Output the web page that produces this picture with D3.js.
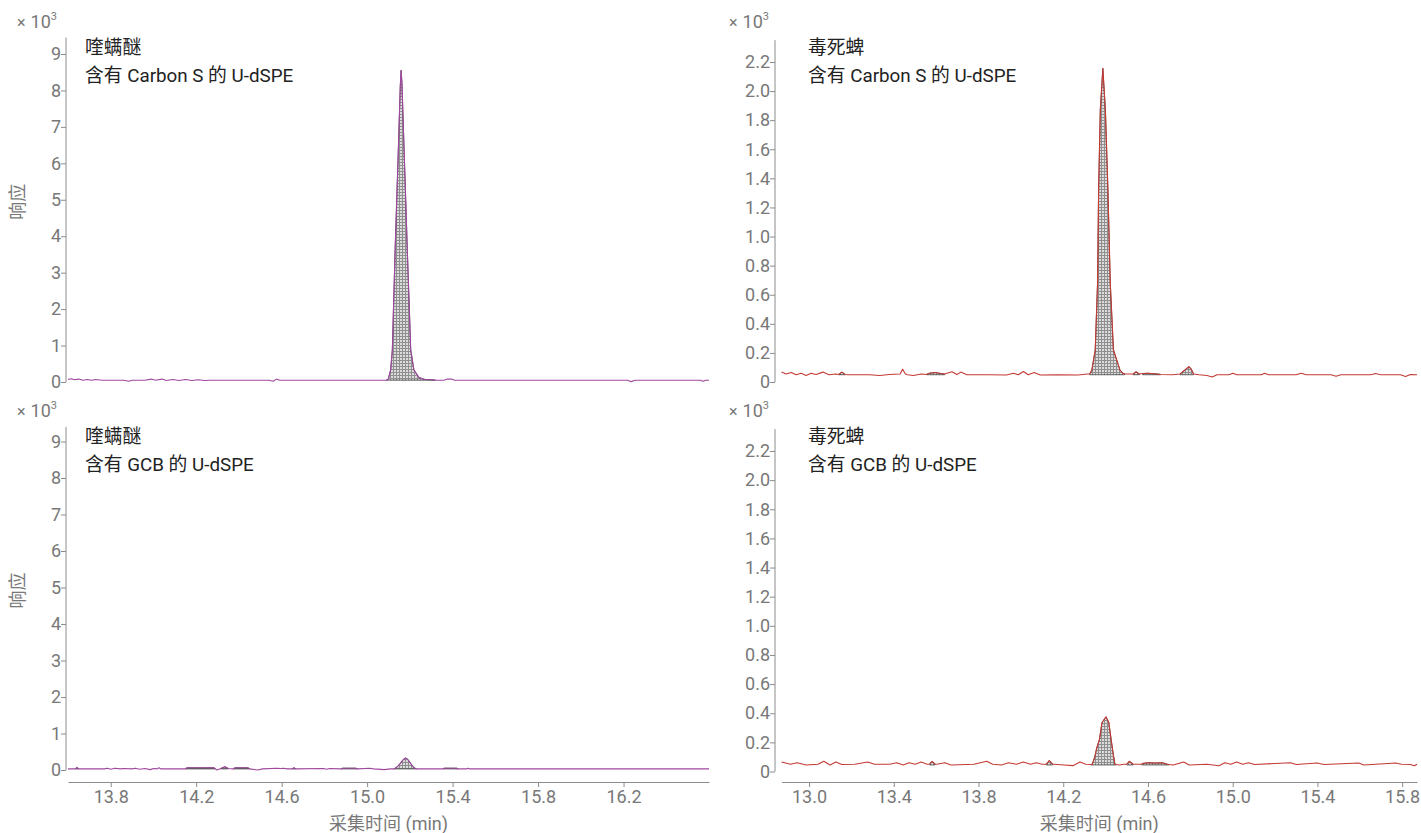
<!DOCTYPE html>
<html><head><meta charset="utf-8">
<script src="https://cdn.jsdelivr.net/npm/d3@7"></script>
<style>body{margin:0;background:#fff}svg{display:block;font-family:Roboto,"Noto Sans CJK SC",sans-serif}</style>
</head><body>
<svg id="c" width="1421" height="833"></svg>
<script>
// ---- data (response ×10³ vs acquisition time, min) ----
const compounds = ["喹螨醚", "毒死蜱"];
const sorbents = ["含有 Carbon S 的 U-dSPE", "含有 GCB 的 U-dSPE"];
const leftTicksX = [13.8, 14.2, 14.6, 15.0, 15.4, 15.8, 16.2];
const rightTicksX = [13.0, 13.4, 13.8, 14.2, 14.6, 15.0, 15.4, 15.8];
const leftTicksY = [0,1,2,3,4,5,6,7,8,9];
const rightTicksY = [0,0.2,0.4,0.6,0.8,1.0,1.2,1.4,1.6,1.8,2.0,2.2];

const fenCarbonS = [[13.600,0.07],[13.615,0.09],[13.630,0.06],[13.650,0.08],[13.670,0.05],[13.690,0.07],[13.710,0.05],[13.730,0.07],[13.760,0.05],[13.800,0.05],[13.860,0.05],[13.885,0.02],[13.900,0.05],[13.960,0.05],[13.990,0.08],[14.010,0.05],[14.040,0.08],[14.060,0.04],[14.090,0.07],[14.120,0.04],[14.150,0.07],[14.180,0.04],[14.210,0.06],[14.240,0.04],[14.260,0.05],[14.540,0.05],[14.560,0.02],[14.575,0.08],[14.590,0.05],[15.000,0.05],[15.090,0.05],[15.099,0.08],[15.110,0.33],[15.118,0.88],[15.131,3.63],[15.146,6.37],[15.155,8.10],[15.159,8.55],[15.163,8.20],[15.173,6.37],[15.188,3.63],[15.204,0.88],[15.219,0.33],[15.243,0.12],[15.270,0.07],[15.300,0.06],[15.320,0.05],[15.360,0.05],[15.375,0.08],[15.395,0.08],[15.410,0.05],[16.220,0.05],[16.235,0.01],[16.255,0.05],[16.560,0.05],[16.572,0.02],[16.585,0.05],[16.600,0.05]];
const fenGCB = [[13.600,0.03],[13.635,0.03],[13.642,0.07],[13.650,0.03],[13.770,0.03],[13.785,0.05],[13.800,0.02],[13.820,0.05],[13.845,0.03],[13.860,0.04],[13.900,0.03],[13.915,0.05],[13.935,0.02],[13.960,0.04],[13.985,0.01],[14.000,0.04],[14.016,0.03],[14.026,0.06],[14.035,0.03],[14.150,0.03],[14.157,0.06],[14.220,0.06],[14.283,0.06],[14.290,0.03],[14.297,0.00],[14.315,0.04],[14.334,0.09],[14.350,0.04],[14.375,0.03],[14.381,0.06],[14.442,0.06],[14.450,0.03],[14.489,0.00],[14.510,0.03],[14.578,0.05],[14.595,0.04],[14.610,0.05],[14.625,0.03],[14.650,0.03],[14.657,0.06],[14.665,0.03],[14.797,0.04],[14.810,0.02],[14.825,0.04],[14.880,0.03],[14.886,0.05],[14.947,0.05],[14.955,0.03],[15.013,0.05],[15.030,0.03],[15.080,0.01],[15.110,0.03],[15.125,0.03],[15.140,0.08],[15.155,0.18],[15.170,0.29],[15.180,0.33],[15.190,0.29],[15.205,0.17],[15.218,0.07],[15.230,0.03],[15.355,0.03],[15.360,0.05],[15.419,0.05],[15.425,0.03],[15.466,0.03],[15.471,0.05],[15.476,0.03],[16.600,0.03]];
const chlCarbonS = [[12.870,0.068],[12.892,0.055],[12.916,0.065],[12.939,0.050],[12.963,0.060],[12.986,0.045],[13.010,0.060],[13.033,0.052],[13.066,0.068],[13.094,0.050],[13.127,0.055],[13.140,0.052],[13.155,0.068],[13.170,0.052],[13.183,0.050],[13.286,0.050],[13.333,0.045],[13.380,0.052],[13.430,0.055],[13.442,0.088],[13.455,0.055],[13.465,0.050],[13.493,0.045],[13.529,0.055],[13.555,0.052],[13.567,0.060],[13.595,0.065],[13.623,0.058],[13.640,0.055],[13.651,0.060],[13.675,0.070],[13.698,0.052],[13.717,0.068],[13.745,0.050],[13.848,0.050],[13.932,0.048],[13.965,0.060],[13.988,0.050],[14.012,0.072],[14.035,0.050],[14.063,0.065],[14.091,0.048],[14.176,0.050],[14.269,0.048],[14.316,0.055],[14.325,0.055],[14.335,0.082],[14.351,0.22],[14.362,0.68],[14.367,1.32],[14.375,1.87],[14.387,2.156],[14.399,1.87],[14.411,1.32],[14.422,0.68],[14.437,0.22],[14.468,0.082],[14.482,0.060],[14.490,0.055],[14.508,0.055],[14.530,0.055],[14.543,0.070],[14.560,0.055],[14.575,0.058],[14.598,0.060],[14.644,0.055],[14.660,0.052],[14.715,0.050],[14.751,0.055],[14.776,0.085],[14.793,0.105],[14.804,0.090],[14.815,0.055],[14.841,0.050],[14.879,0.045],[14.903,0.035],[14.926,0.050],[14.982,0.050],[15.001,0.060],[15.019,0.050],[15.136,0.050],[15.150,0.060],[15.169,0.050],[15.300,0.050],[15.323,0.060],[15.347,0.050],[15.464,0.050],[15.488,0.040],[15.511,0.050],[15.652,0.050],[15.675,0.058],[15.699,0.050],[15.792,0.050],[15.816,0.038],[15.839,0.052],[15.870,0.050]];
const chlGCB = [[12.870,0.065],[12.912,0.050],[12.944,0.060],[12.986,0.045],[13.042,0.050],[13.070,0.070],[13.099,0.045],[13.127,0.065],[13.155,0.048],[13.216,0.050],[13.277,0.065],[13.309,0.050],[13.380,0.050],[13.413,0.060],[13.445,0.045],[13.473,0.060],[13.501,0.050],[13.529,0.065],[13.558,0.050],[13.570,0.052],[13.581,0.070],[13.595,0.052],[13.604,0.050],[13.641,0.060],[13.670,0.045],[13.778,0.050],[13.839,0.070],[13.867,0.050],[13.909,0.045],[13.942,0.060],[13.979,0.050],[14.012,0.065],[14.045,0.050],[14.073,0.060],[14.101,0.050],[14.120,0.050],[14.134,0.075],[14.150,0.050],[14.157,0.050],[14.204,0.045],[14.246,0.040],[14.279,0.065],[14.307,0.050],[14.330,0.048],[14.337,0.050],[14.349,0.10],[14.358,0.16],[14.371,0.22],[14.383,0.336],[14.402,0.375],[14.415,0.336],[14.426,0.22],[14.436,0.12],[14.444,0.050],[14.450,0.048],[14.466,0.045],[14.485,0.050],[14.500,0.050],[14.512,0.070],[14.530,0.050],[14.536,0.050],[14.570,0.050],[14.574,0.055],[14.597,0.060],[14.635,0.058],[14.668,0.060],[14.691,0.050],[14.700,0.048],[14.719,0.045],[14.769,0.065],[14.794,0.045],[14.878,0.050],[14.935,0.040],[14.963,0.060],[14.991,0.050],[15.019,0.065],[15.047,0.050],[15.075,0.060],[15.103,0.048],[15.272,0.060],[15.300,0.048],[15.398,0.058],[15.431,0.048],[15.595,0.058],[15.619,0.045],[15.769,0.058],[15.797,0.050],[15.839,0.048],[15.858,0.040],[15.870,0.050]];

// integrated (shaded) intervals [start, end] in minutes
const fenCarbonSPeaks = [[15.090, 15.320]];
const fenGCBPeaks = [[13.635, 13.650],[14.150, 14.290],[14.315, 14.350],[14.375, 14.450],[14.650, 14.665],[14.880, 14.955],[15.125, 15.230],[15.355, 15.425]];
const chlCarbonSPeaks = [[13.140, 13.170],[13.555, 13.640],[14.325, 14.490],[14.530, 14.560],[14.575, 14.660],[14.751, 14.815]];
const chlGCBPeaks = [[13.570, 13.595],[14.120, 14.150],[14.330, 14.450],[14.500, 14.530],[14.570, 14.700]];

// ---- drawing ----
const svg = d3.select("#c");
const defs = svg.append("defs");
const pat = defs.append("pattern").attr("id","hatch").attr("width",3).attr("height",3).attr("patternUnits","userSpaceOnUse");
pat.append("rect").attr("width",3).attr("height",3).attr("fill","#dcdcdc");
pat.append("path").attr("d","M0,0.5H3M0.5,0V3").attr("stroke","#8f8f8f").attr("stroke-width",1);

const AX = "#8c8c8c", TXT = "#787878";
const panels = [
  {data:fenCarbonS, peaks:fenCarbonSPeaks, base:0.05, xd:[13.6,16.6], xr:[68,709], yAxisX:66, y0:382, yTop:9, yTopPx:54, yMax:9.45, yt:leftTicksY, xt:null, color:"#a0479f", title:[compounds[0], sorbents[0]], tx:85, ty:54, ylab:true, expX:17, expY:28},
  {data:chlCarbonS, peaks:chlCarbonSPeaks, base:0.05, xd:[12.87,15.87], xr:[781.5,1417], yAxisX:775, y0:382, yTop:2.2, yTopPx:62, yMax:2.35, yt:rightTicksY, xt:null, color:"#c43a34", title:[compounds[1], sorbents[0]], tx:808, ty:54, ylab:false, expX:729, expY:28},
  {data:fenGCB, peaks:fenGCBPeaks, base:0.03, xd:[13.6,16.6], xr:[68,709], yAxisX:66, y0:770, yTop:9, yTopPx:441.5, yMax:9.4, yt:leftTicksY, xt:leftTicksX, color:"#a0479f", title:[compounds[0], sorbents[1]], tx:85, ty:443, ylab:true, expX:17, expY:417},
  {data:chlGCB, peaks:chlGCBPeaks, base:0.045, xd:[12.87,15.87], xr:[781.5,1417], yAxisX:775, y0:771.5, yTop:2.2, yTopPx:451, yMax:2.35, yt:rightTicksY, xt:rightTicksX, color:"#c43a34", title:[compounds[1], sorbents[1]], tx:808, ty:443, ylab:false, expX:729, expY:417}
];

panels.forEach(p => {
  const g = svg.append("g");
  const x = d3.scaleLinear().domain(p.xd).range(p.xr);
  const y = d3.scaleLinear().domain([0, p.yTop]).range([p.y0, p.yTopPx]);
  const fmt = p.yTop > 5 ? d3.format("d") : (v => v === 0 ? "0" : d3.format(".1f")(v));

  // y axis
  const ya = g.append("g").attr("transform", `translate(${p.yAxisX},0)`)
    .call(d3.axisLeft(y).tickValues(p.yt).tickFormat(fmt).tickSize(5).tickSizeOuter(0));
  ya.select(".domain").attr("d", `M0,${y(0)}V${y(p.yMax)}`).attr("stroke", AX);
  ya.selectAll(".tick line").attr("stroke", AX);
  ya.selectAll(".tick text").attr("fill", TXT).attr("font-size", 18).attr("x", -5).attr("font-family","Roboto,sans-serif");

  // x axis
  if (p.xt) {
    const xa = g.append("g").attr("transform", `translate(0,782)`)
      .call(d3.axisBottom(x).tickValues(p.xt).tickFormat(d3.format(".1f")).tickSize(5).tickSizeOuter(0));
    xa.select(".domain").attr("stroke", AX);
    xa.selectAll(".tick line").attr("stroke", AX);
    xa.selectAll(".tick text").attr("fill", TXT).attr("font-size", 18).attr("y", 8).attr("font-family","Roboto,sans-serif");
    g.append("text").attr("x", (p.xr[0]+p.xr[1])/2).attr("y", 830).attr("text-anchor","middle")
      .attr("fill", TXT).attr("font-size", 18).text("采集时间 (min)");
  }

  // exponent label
  const e = g.append("text").attr("x", p.expX).attr("y", p.expY).attr("fill", TXT).attr("font-size", 18).attr("font-family","Roboto,sans-serif");
  e.append("tspan").attr("font-size", 16).text("×");
  e.append("tspan").attr("dx", 5).text("10");
  e.append("tspan").attr("font-size", 11).attr("dy", -8).text("3");

  if (p.ylab) {
    g.append("text").attr("transform", `translate(24,${(y(0)+y(p.yMax))/2 - 8}) rotate(-90)`)
      .attr("text-anchor","middle").attr("fill", TXT).attr("font-size", 18).text("响应");
  }

  // titles
  p.title.forEach((t, i) => g.append("text").attr("x", p.tx).attr("y", p.ty + i*28)
    .attr("fill", "#222").attr("font-size", 18.8).text(t));

  // shaded areas
  const area = d3.area().x(d => x(d[0])).y0(y(p.base)).y1(d => y(Math.max(d[1], p.base)));
  p.peaks.forEach(([a, b]) => {
    const seg = p.data.filter(d => d[0] >= a - 1e-9 && d[0] <= b + 1e-9);
    if (seg.length < 2) return;
    g.append("path").attr("d", area(seg)).attr("fill", "url(#hatch)")
      .attr("stroke", "#3a3a3a").attr("stroke-width", 0.8);
  });

  // trace
  const line = d3.line().x(d => x(d[0])).y(d => y(d[1]));
  g.append("path").attr("d", line(p.data)).attr("fill", "none")
    .attr("stroke", p.color).attr("stroke-width", 1.1).attr("stroke-linejoin","round");
});
</script>
</body></html>
